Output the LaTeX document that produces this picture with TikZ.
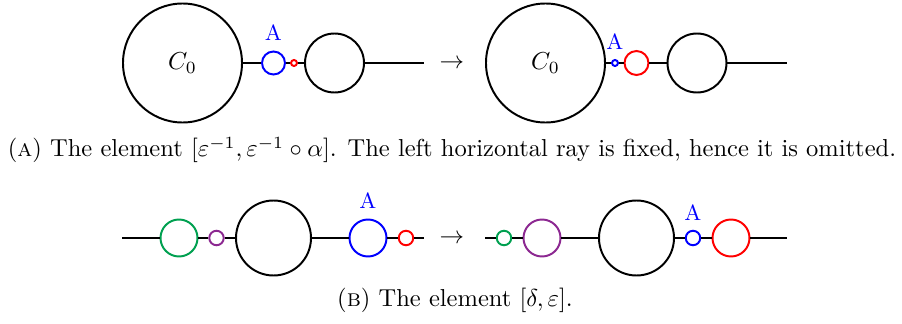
\documentclass[tikz,border=0pt]{standalone}
\definecolor{ringgreen}{RGB}{0,160,80}
\definecolor{ringpurple}{RGB}{140,40,145}
\begin{document}
\begin{tikzpicture}[x=0.408pt, y=-0.408pt, thick,
    ring/.style={circle, draw, inner sep=0pt, minimum size=#1*0.408pt},
    markA/.style={label={[blue, inner sep=3.5pt, font=\small]above:A}}]
    \useasboundingbox (0,0) rectangle (902,324);

    % Top left: before
    \node[ring=119] (c0l) at (182.5,63) {$C_0$};
    \node[ring=23, blue, markA] (al) at (273.5,63) {};
    \node[ring=6, red] (el) at (294,63) {};
    \node[ring=59] (dl) at (334.5,63) {};
    \coordinate (rl) at (424,63);
    \draw (c0l) -- (al);
    \draw (al) -- (el);
    \draw (el) -- (dl);
    \draw (dl) -- (rl);

    \node (to1) at (452,64) {$\to$};

    % Top right: after
    \node[ring=119] (c0r) at (545.5,63) {$C_0$};
    \node[ring=6, blue, markA] (ar) at (615,63) {};
    \node[ring=24, red] (er) at (636.5,63) {};
    \node[ring=59] (dr) at (697,63) {};
    \coordinate (rr) at (787,63);
    \draw (c0r) -- (ar);
    \draw (ar) -- (er);
    \draw (er) -- (dr);
    \draw (dr) -- (rr);

    \node (capA) at (452,150) {(\textsc{a}) The element $[\varepsilon^{-1},\varepsilon^{-1}\circ\alpha]$. The left horizontal ray is fixed, hence it is omitted.};

    % Bottom left: before
    \coordinate (sl) at (122.5,238);
    \node[ring=37, ringgreen] (gl) at (179,238) {};
    \node[ring=14.5, ringpurple] (pl) at (216.5,238) {};
    \node[ring=75] (bl) at (273.5,238) {};
    \node[ring=37, blue, markA] (al2) at (368,238) {};
    \node[ring=14.5, red] (el2) at (406,238) {};
    \coordinate (tl) at (424,238);
    \draw (sl) -- (gl);
    \draw (gl) -- (pl);
    \draw (pl) -- (bl);
    \draw (bl) -- (al2);
    \draw (al2) -- (el2);
    \draw (el2) -- (tl);

    \node (to2) at (452,239) {$\to$};

    % Bottom right: after
    \coordinate (sr) at (485,238);
    \node[ring=14.5, ringgreen] (gr) at (504,238) {};
    \node[ring=37, ringpurple] (pr) at (542,238) {};
    \node[ring=75] (br) at (636.5,238) {};
    \node[ring=14.5, blue, markA] (ar2) at (693,238) {};
    \node[ring=37, red] (er2) at (731,238) {};
    \coordinate (tr) at (787,238);
    \draw (sr) -- (gr);
    \draw (gr) -- (pr);
    \draw (pr) -- (br);
    \draw (br) -- (ar2);
    \draw (ar2) -- (er2);
    \draw (er2) -- (tr);

    \node (capB) at (455,300) {(\textsc{b}) The element $[\delta,\varepsilon]$.};
\end{tikzpicture}
\end{document}
